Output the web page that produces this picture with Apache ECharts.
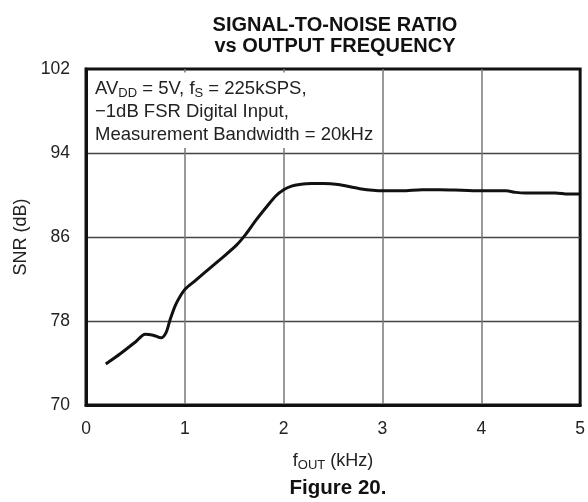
<!DOCTYPE html>
<html>
<head>
<meta charset="utf-8">
<script src="https://cdn.jsdelivr.net/npm/echarts@6/dist/echarts.min.js"></script>
<style>
  html, body { margin: 0; padding: 0; background: #fff; }
  #chart { width: 588px; height: 502px; }
</style>
</head>
<body>
<div id="chart"></div>
<script>
// Values
const freqKHz = [0.20, 0.35, 0.50, 0.60, 0.68, 0.76, 0.81, 0.85, 0.90, 0.95, 1.00, 1.10, 1.20, 1.35, 1.52, 1.62, 1.72, 1.83, 1.92, 2.00, 2.08, 2.16, 2.28, 2.40, 2.55, 2.77, 3.00, 3.20, 3.40, 3.58, 3.80, 4.01, 4.25, 4.35, 4.45, 4.60, 4.75, 4.88, 5.00];
const snrDb   = [73.9, 74.9, 76.0, 76.75, 76.65, 76.4, 76.9, 78.1, 79.4, 80.3, 81.0, 81.8, 82.6, 83.8, 85.2, 86.3, 87.6, 88.9, 89.9, 90.5, 90.85, 91.0, 91.1, 91.1, 91.0, 90.6, 90.4, 90.4, 90.5, 90.5, 90.45, 90.4, 90.4, 90.25, 90.2, 90.2, 90.2, 90.1, 90.1];

const xTicks = [0, 1, 2, 3, 4, 5];
const yTicks = [70, 78, 86, 94, 102];

const FONT = '"Liberation Sans", Arial, sans-serif';

const chart = echarts.init(document.getElementById('chart'));

const option = {
    animation: false,
    textStyle: { fontFamily: FONT },
    title: [
        {
            text: 'SIGNAL-TO-NOISE RATIO\nvs OUTPUT FREQUENCY',
            left: 330,
            top: 10,
            textAlign: 'center',
            textStyle: { fontSize: 20, fontWeight: 'bold', color: '#111', lineHeight: 21, fontFamily: FONT }
        },
        {
            text: '{t|AV}{s|DD}{t| = 5V, f}{s|S}{t| = 225kSPS,}\n{t|\u22121dB FSR Digital Input,}\n{t|Measurement Bandwidth = 20kHz}',
            left: 88,
            top: 72,
            backgroundColor: '#fff',
            padding: [5, 5, 4, 7],
            textStyle: {
                rich: {
                    t: { fontSize: 18.5, fontWeight: 'normal', color: '#222', lineHeight: 23, fontFamily: FONT },
                    s: { fontSize: 13, fontWeight: 'normal', color: '#222', lineHeight: 23, padding: [9, 0, 0, 0], fontFamily: FONT }
                }
            }
        },
        {
            text: 'Figure 20.',
            left: 333,
            top: 472,
            textAlign: 'center',
            textStyle: { fontSize: 20.5, fontWeight: 'bold', color: '#111', lineHeight: 22, fontFamily: FONT }
        }
    ],
    grid: {
        left: 86,
        right: 7,
        top: 69,
        bottom: 97,
        show: true,
        borderColor: '#111',
        borderWidth: 3
    },
    xAxis: {
        type: 'value',
        min: xTicks[0],
        max: xTicks[xTicks.length - 1],
        interval: 1,
        name: '{t|f}{s|OUT}{t| (kHz)}',
        nameLocation: 'middle',
        nameGap: 45,
        nameTextStyle: {
            rich: {
                t: { fontSize: 18, color: '#222', fontFamily: FONT },
                s: { fontSize: 13, color: '#222', padding: [9, 0, 0, 0], fontFamily: FONT }
            }
        },
        axisLine: { show: true, lineStyle: { color: '#111', width: 3 } },
        axisTick: { show: false },
        axisLabel: { fontSize: 17.5, color: '#222', margin: 15, fontFamily: FONT },
        splitLine: { show: true, showMinLine: false, showMaxLine: false, lineStyle: { color: '#777', width: 1.5 } }
    },
    yAxis: {
        type: 'value',
        min: yTicks[0],
        max: yTicks[yTicks.length - 1],
        interval: 8,
        name: 'SNR (dB)',
        nameLocation: 'middle',
        nameGap: 50,
        nameTextStyle: { fontSize: 18, color: '#222', fontFamily: FONT },
        axisLine: { show: true, lineStyle: { color: '#111', width: 3 } },
        axisTick: { show: false },
        axisLabel: { fontSize: 17.5, color: '#222', margin: 16, fontFamily: FONT },
        splitLine: { show: true, showMinLine: false, showMaxLine: false, lineStyle: { color: '#444', width: 1.3 } }
    },
    series: [{
        type: 'line',
        data: freqKHz.map((f, i) => [f, snrDb[i]]),
        smooth: 0.3,
        showSymbol: false,
        lineStyle: { color: '#111', width: 3 },
        z: 3
    }]
};

chart.setOption(option);
</script>
</body>
</html>
